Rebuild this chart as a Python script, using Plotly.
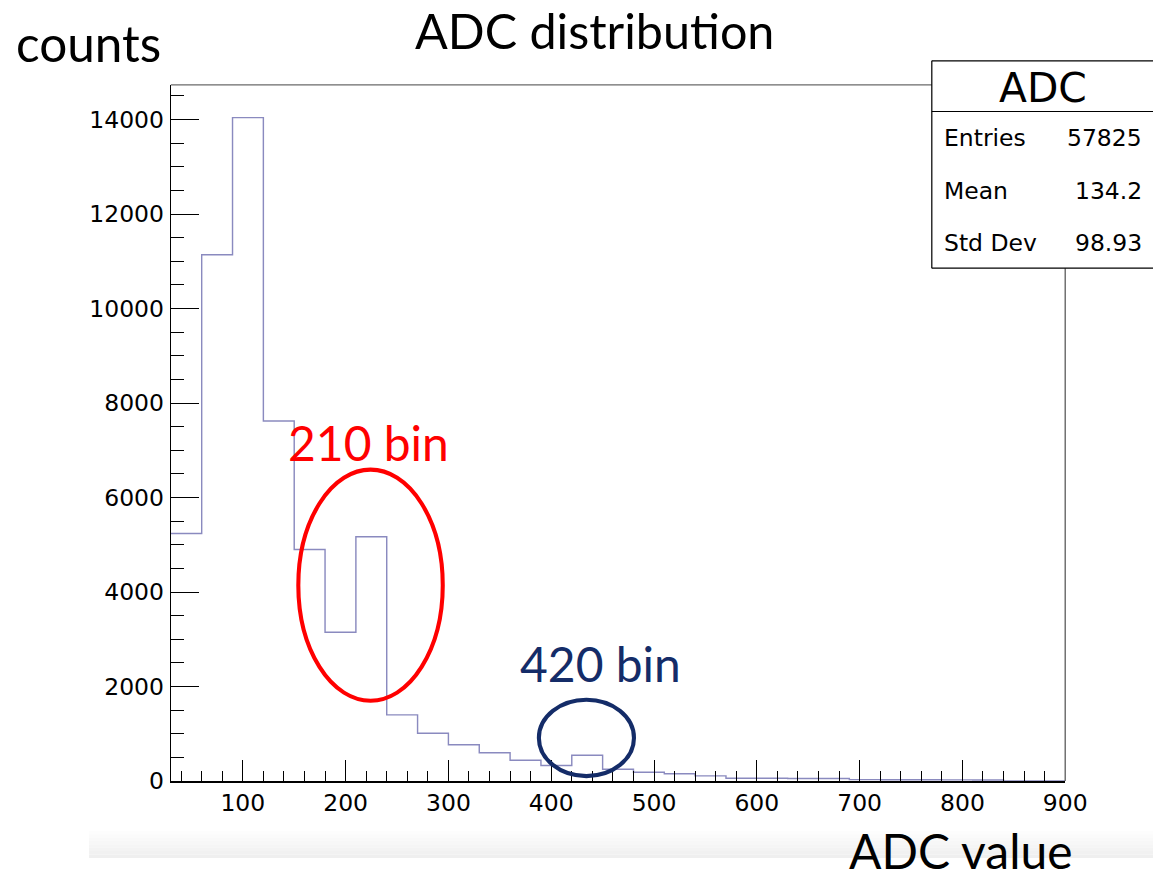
import plotly.graph_objects as go

# ---------------- data ----------------
bin_low = [30, 60, 90, 120, 150, 180, 210, 240, 270, 300, 330, 360, 390, 420, 450,
           480, 510, 540, 570, 600, 630, 660, 690, 720, 750, 780, 810, 840, 870]
bin_width = 30
counts = [5240, 11140, 14040, 7620, 4900, 3150, 5170, 1400, 1010, 770, 600, 440, 330, 545, 250,
          185, 155, 110, 60, 58, 55, 52, 30, 28, 27, 25, 22, 2, 0]

x_tick_vals = [100, 200, 300, 400, 500, 600, 700, 800, 900]
y_tick_vals = [0, 2000, 4000, 6000, 8000, 10000, 12000, 14000]

stats_title = "ADC"
stats_labels = ["Entries", "Mean", "Std Dev"]
stats_values = ["57825", "134.2", "98.93"]

title_text = "ADC distribution"
x_title = "ADC value"
y_title = "counts"
note_red = "210 bin"
note_blue = "420 bin"

# ---------------- layout helpers ----------------
W, H = 1153, 877          # reference picture size (coordinates below are in these pixels)
FW, FH = 1176, 895        # figure size
S = FH / H                # scale for fonts / pixel lengths
def px(x):
    return min(x / W, 1.0)
def py(y):
    return 1 - y / H

ROOT_FONT = "DejaVu Sans"
JP_FONT = "Lato"
NAVY = "#142c68"

edges = bin_low + [bin_low[-1] + bin_width]
step_y = counts + [counts[-1]]

fig = go.Figure()
fig.add_trace(go.Scatter(
    x=edges, y=step_y, mode="lines", line=dict(shape="hv", color="#8a8abf", width=1.4 * S),
    hoverinfo="skip", showlegend=False))

fig.update_layout(
    width=FW, height=FH, margin=dict(l=0, r=0, t=0, b=0),
    paper_bgcolor="white", plot_bgcolor="white", showlegend=False,
    xaxis=dict(domain=[px(170.7), px(1064.3)], range=[30, 900],
               tickvals=x_tick_vals, ticks="inside", ticklen=21 * S, tickwidth=1, tickcolor="black",
               minor=dict(dtick=20, tick0=0, ticks="inside", ticklen=10 * S, tickwidth=1, tickcolor="black"),
               showline=True, linecolor="black", linewidth=1.6 * S, showgrid=False, zeroline=False,
               tickfont=dict(family=ROOT_FONT, size=23 * S, color="black"), ticklabelstandoff=0),
    yaxis=dict(domain=[py(777.5), py(84.5)], range=[0, 14733],
               tickvals=y_tick_vals, tickformat="d", ticks="inside", ticklen=27 * S, tickwidth=1,
               tickcolor="black",
               minor=dict(dtick=500, tick0=0, ticks="inside", ticklen=13 * S, tickwidth=1, tickcolor="black"),
               showline=True, linecolor="black", linewidth=1.4 * S, showgrid=False, zeroline=False,
               tickfont=dict(family=ROOT_FONT, size=23 * S, color="black"), ticklabelstandoff=1),
)

shapes = []
# bottom grey gradient band (screenshot artefact)
n_strips = 8
for i in range(n_strips):
    y0 = 827 + i * (854 - 827) / n_strips
    y1 = 827 + (i + 1) * (854 - 827) / n_strips
    g = int(255 - (i + 1) * 2)
    shapes.append(dict(type="rect", xref="paper", yref="paper", x0=px(89), x1=1.0,
                       y0=py(y1), y1=py(y0), fillcolor=f"rgb({g},{g},{g})", line=dict(width=0), layer="below"))
# frame top and right
shapes.append(dict(type="line", xref="paper", yref="paper", x0=px(170.7), x1=px(1064.3),
                   y0=py(84.5), y1=py(84.5), line=dict(color="#6a6a6a", width=1.4 * S)))
shapes.append(dict(type="line", xref="paper", yref="paper", x0=px(1064.3), x1=px(1064.3),
                   y0=py(84.5), y1=py(777.5), line=dict(color="#6a6a6a", width=1.4 * S)))
# ellipses
shapes.append(dict(type="circle", xref="x", yref="y", x0=154, x1=294.5, y0=1700, y1=6590,
                   line=dict(color="#ff0000", width=4 * S)))
shapes.append(dict(type="circle", xref="x", yref="y", x0=388, x1=480.5, y0=105, y1=1720,
                   line=dict(color=NAVY, width=4 * S)))
# stats box (right edge cut off by the picture border)
shapes.append(dict(type="rect", xref="paper", yref="paper", x0=px(931), x1=1.0,
                   y0=py(267), y1=py(60.5), fillcolor="white", line=dict(width=0)))
for (xa, ya, xb, yb) in [(931, 60.5, 1153, 60.5), (931, 267, 1153, 267),
                         (931, 60.5, 931, 267), (931, 111, 1153, 111)]:
    shapes.append(dict(type="line", xref="paper", yref="paper", x0=px(xa), x1=px(xb),
                       y0=py(ya), y1=py(yb), line=dict(color="black", width=1.2 * S)))
fig.update_layout(shapes=shapes)

ann = []
ann.append(dict(text=stats_title, xref="paper", yref="paper", x=px(1042), y=py(88),
                xanchor="center", yanchor="middle", showarrow=False,
                font=dict(family=ROOT_FONT, size=40 * S, color="black")))
row_y = [137, 190, 242]
for lab, val, yy in zip(stats_labels, stats_values, row_y):
    ann.append(dict(text=lab, xref="paper", yref="paper", x=px(941), y=py(yy),
                    xanchor="left", yanchor="middle", showarrow=False,
                    font=dict(family=ROOT_FONT, size=23 * S, color="black")))
    ann.append(dict(text=val, xref="paper", yref="paper", x=px(1143), y=py(yy),
                    xanchor="right", yanchor="middle", showarrow=False,
                    font=dict(family=ROOT_FONT, size=23 * S, color="black")))
ann.append(dict(text=title_text, xref="paper", yref="paper", x=px(594), y=py(30),
                xanchor="center", yanchor="middle", showarrow=False,
                font=dict(family=JP_FONT, size=47.5 * S, color="black")))
ann.append(dict(text=y_title, xref="paper", yref="paper", x=px(88), y=py(43),
                xanchor="center", yanchor="middle", showarrow=False,
                font=dict(family=JP_FONT, size=48.5 * S, color="black")))
ann.append(dict(text=x_title, xref="paper", yref="paper", x=px(960), y=0,
                xanchor="center", yanchor="bottom", showarrow=False,
                font=dict(family=JP_FONT, size=47 * S, color="black")))
ann.append(dict(text=note_red, xref="paper", yref="paper", x=px(368), y=py(440),
                xanchor="center", yanchor="middle", showarrow=False,
                font=dict(family=JP_FONT, size=47 * S, color="#ff0000")))
ann.append(dict(text=note_blue, xref="paper", yref="paper", x=px(600), y=py(660),
                xanchor="center", yanchor="middle", showarrow=False,
                font=dict(family=JP_FONT, size=47 * S, color=NAVY)))
fig.update_layout(annotations=ann)

fig.write_html("out.html")
